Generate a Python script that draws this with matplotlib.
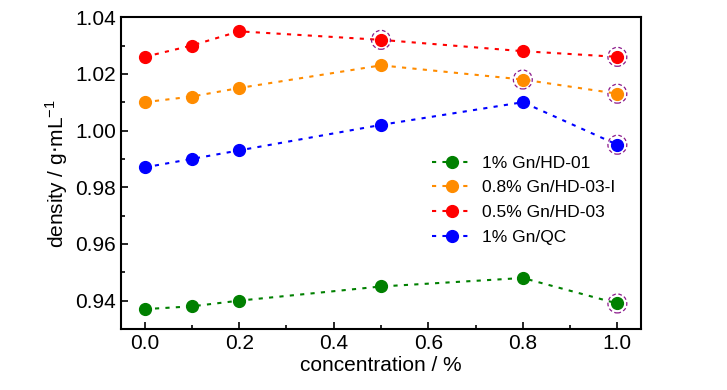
from matplotlib import pyplot as plt
from matplotlib.ticker import MultipleLocator

# Data
conc = [0.0, 0.1, 0.2, 0.5, 0.8, 1.0]
gn_hd01 = [0.937, 0.938, 0.940, 0.945, 0.948, 0.939]
gn_hd03i = [1.010, 1.012, 1.015, 1.023, 1.018, 1.013]
gn_hd03 = [1.026, 1.030, 1.035, 1.032, 1.028, 1.026]
gn_qc = [0.987, 0.990, 0.993, 1.002, 1.010, 0.995]
labels = ['1% Gn/HD-01', '0.8% Gn/HD-03-I', '0.5% Gn/HD-03', '1% Gn/QC']
colors = ['#008000', '#ff8c00', '#ff0000', '#0000ff']

# Points highlighted with a dashed circle (series index, point index)
highlight = [(2, 3), (2, 5), (1, 4), (1, 5), (3, 5), (0, 5)]

plt.rcParams['font.family'] = ['Liberation Sans', 'DejaVu Sans']

fig = plt.figure(figsize=(7.27, 3.9), dpi=100)
ax = fig.add_axes([0.1664, 0.1564, 0.7153, 0.7996])

series = [gn_hd01, gn_hd03i, gn_hd03, gn_qc]
for s, lab, c in zip(series, labels, colors):
    ax.plot(conc, s, ls=(0, (2, 3)), lw=1.5, color=c, marker='o', ms=8.5,
            label=lab)

# dashed purple rings
hx = [conc[pi] for si, pi in highlight]
hy = [series[si][pi] for si, pi in highlight]
ax.scatter(hx, hy, s=185, facecolors='none', edgecolors='#8b1a8b',
           linewidths=0.9, linestyle=(0, (3, 2)), zorder=3)

ax.set_xlim(-0.05, 1.05)
ax.set_ylim(0.93, 1.04)
ax.xaxis.set_major_locator(MultipleLocator(0.2))
ax.xaxis.set_minor_locator(MultipleLocator(0.1))
ax.set_yticks([0.94, 0.96, 0.98, 1.00, 1.02, 1.04])
ax.yaxis.set_minor_locator(MultipleLocator(0.01))
ax.xaxis.set_major_formatter(plt.FormatStrFormatter('%.1f'))
ax.yaxis.set_major_formatter(plt.FormatStrFormatter('%.2f'))
ax.tick_params(which='both', direction='in', width=1.2, labelsize=15)
ax.tick_params(which='major', length=5)
ax.tick_params(which='minor', length=3)
for sp in ax.spines.values():
    sp.set_linewidth(1.5)

ax.set_xlabel('concentration / %', fontsize=15, labelpad=2)
ax.set_ylabel('density / g$\\cdot$mL$^{\\mathregular{-1}}$', fontsize=15)

ax.legend(loc='center left', bbox_to_anchor=(0.598, 0.413), frameon=False,
          fontsize=12.5, handlelength=2.3, handletextpad=0.6,
          labelspacing=0.55, borderpad=0, borderaxespad=0)

fig.savefig('out.png', dpi=100)
